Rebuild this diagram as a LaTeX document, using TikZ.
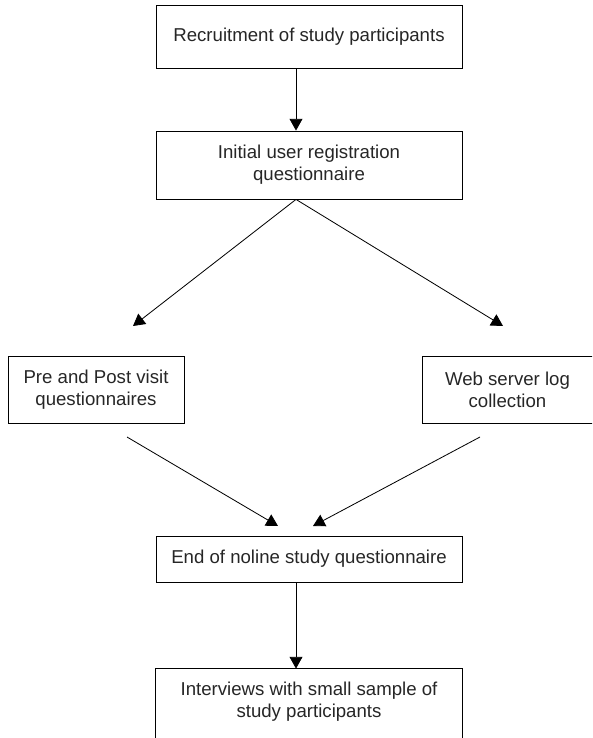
\documentclass[tikz,border=0pt]{standalone}
\usepackage{fontspec}
\setmainfont{Liberation Sans}
\usetikzlibrary{arrows.meta}

\begin{document}
\begin{tikzpicture}[x=0.03cm,y=-0.03cm,line width=0.7pt,
  stage/.style={draw,rectangle,align=center,inner sep=0pt,text=black!85,font=\fontsize{15.9}{19}\selectfont},
  flow/.style={-{Triangle[length=10pt,width=11pt]}}]
\useasboundingbox (0,0) rectangle (592,738);
\clip (0,0) rectangle (592,738);
\node[stage,minimum width=9.18cm,minimum height=1.89cm] (recruit) at (309,36.5) {Recruitment of study participants};
\node[stage,minimum width=9.18cm,minimum height=2.04cm] (initial) at (309,165) {Initial user registration\\questionnaire};
\node[stage,minimum width=5.28cm,minimum height=2.01cm] (prepost) at (96,389.5) {Pre and Post visit\\questionnaires};
\node[stage,minimum width=5.13cm,minimum height=2.01cm] (weblog) at (507.5,389.5) {Web server log\\collection};
\node[stage,minimum width=9.18cm,minimum height=1.38cm] (endstudy) at (309,559) {End of noline study questionnaire};
\node[stage,draw=none,minimum width=9.18cm,minimum height=1.98cm] (interviews) at (309,702) {Interviews with small sample of\\study participants};
\draw ([yshift=-0.3cm]interviews.south west) |- (interviews.north east) -- ([yshift=-0.3cm]interviews.south east);
% free ends of the slanted arrows
\coordinate (prepostin) at (133,326);
\coordinate (weblogin) at (503,326);
\coordinate (prepostout) at (127,437);
\coordinate (weblogout) at (480,437);
\coordinate (endleft) at (278,526);
\coordinate (endright) at (313,526);
\draw[flow] ([xshift=-0.39cm]recruit.south) -- ([xshift=-0.39cm]initial.north);
\draw[flow] ([xshift=-0.39cm]initial.south) -- (prepostin);
\draw[flow] ([xshift=-0.39cm]initial.south) -- (weblogin);
\draw[flow] (prepostout) -- (endleft);
\draw[flow] (weblogout) -- (endright);
\draw[flow] ([xshift=-0.39cm]endstudy.south) -- ([xshift=-0.39cm]interviews.north);
\end{tikzpicture}
\end{document}
